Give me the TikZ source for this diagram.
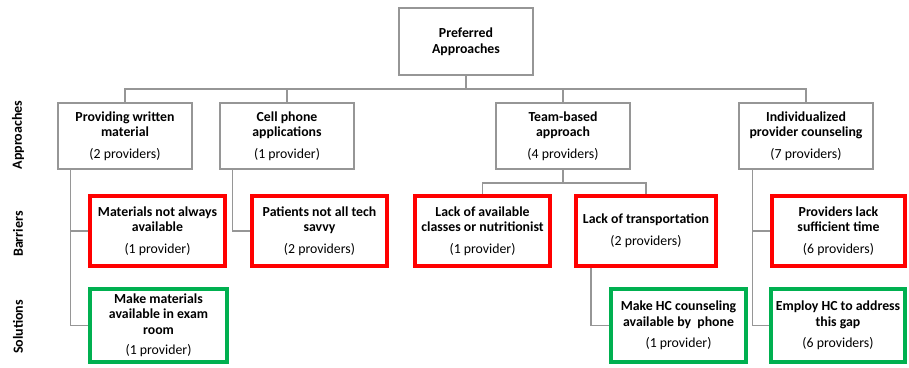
\documentclass[tikz,border=0pt]{standalone}
\usepackage{fontspec}
\setmainfont{Carlito}
\usepackage{tikz}
\definecolor{barred}{RGB}{255,0,0}
\definecolor{solgreen}{RGB}{0,176,80}
\definecolor{linegray}{RGB}{150,150,150}
\begin{document}
\begin{tikzpicture}[x=1pt,y=-1pt,
  box/.style={draw=linegray,line width=1.2pt,align=center,inner sep=1pt,
    font=\fontsize{13.8}{15.5}\selectfont},
  appr/.style={box,minimum width=134pt,minimum height=66pt},
  barr/.style={box,draw=barred,line width=4pt,minimum height=70pt},
  sol/.style={box,draw=solgreen,line width=4pt,minimum height=73pt},
  side/.style={rotate=90,font=\fontsize{14}{16}\selectfont\bfseries},
  conn/.style={draw=linegray,line width=1.2pt}]
\useasboundingbox (0,0) rectangle (909,367);
\node[box,minimum width=134pt,minimum height=67pt] (top) at (466,41.5) {\textbf{Preferred}\\\textbf{Approaches}};
\node[appr] (A1) at (125,136) {\textbf{Providing written}\\\textbf{material}\\[6pt](2 providers)};
\node[appr] (A2) at (287,136) {\textbf{Cell phone}\\\textbf{applications}\\[6pt](1 provider)};
\node[appr] (A3) at (563,136) {\textbf{Team-based}\\\textbf{approach}\\[6pt](4 providers)};
\node[appr] (A4) at (806,136) {\textbf{Individualized}\\\textbf{provider counseling}\\[6pt](7 providers)};
\node[barr,minimum width=135pt] (B1) at (157.5,231) {\textbf{Materials not always}\\\textbf{available}\\[6pt](1 provider)};
\node[barr,minimum width=135pt] (B2) at (319.5,231) {\textbf{Patients not all tech}\\\textbf{savvy}\\[6pt](2 providers)};
\node[barr,minimum width=135pt] (B3) at (482.5,231) {\textbf{Lack of available}\\\textbf{classes or nutritionist}\\[6pt](1 provider)};
\node[barr,minimum width=140pt] (B4) at (646,231) {\textbf{Lack of transportation}\\[6pt](2 providers)};
\node[barr,minimum width=133pt] (B5) at (838.5,231) {\textbf{Providers lack}\\\textbf{sufficient time}\\[6pt](6 providers)};
\node[sol,minimum width=137pt] (S1) at (158.5,325.5) {\textbf{Make materials}\\\textbf{available in exam}\\\textbf{room}\\[5pt](1 provider)};
\node[sol,minimum width=135pt] (S2) at (678.5,325.5) {\textbf{Make HC counseling}\\\textbf{available by\ \ phone}\\[6pt](1 provider)};
\node[sol,minimum width=134pt] (S3) at (838,325.5) {\textbf{Employ HC to address}\\\textbf{this gap}\\[6pt](6 providers)};
% row labels
\node[side] (lapp) at (18,135) {Approaches};
\node[side] (lbar) at (18,234) {Barriers};
\node[side] (lsol) at (18,327) {Solutions};
% connectors
\coordinate (bus) at (466,89);
\coordinate (bus2) at (563,183);
\draw[conn] (top.south) -- (bus);
\draw[conn] (A1.north) |- (bus) -| (A4.north);
\draw[conn] (A2.north) -- (A2.north |- bus);
\draw[conn] (A3.north) -- (A3.north |- bus);
\draw[conn] ([xshift=13pt]A1.south west) |- (B1.west);
\draw[conn] ([xshift=13pt]A1.south west) |- (S1.west);
\draw[conn] ([xshift=13pt]A2.south west) |- (B2.west);
\draw[conn] (A3.south) -- (bus2);
\draw[conn] (B3.north) |- (bus2) -| (B4.north);
\draw[conn] ([xshift=17pt]B4.south west) |- (S2.west);
\draw[conn] ([xshift=14pt]A4.south west) |- (B5.west);
\draw[conn] ([xshift=14pt]A4.south west) |- (S3.west);
\end{tikzpicture}
\end{document}
